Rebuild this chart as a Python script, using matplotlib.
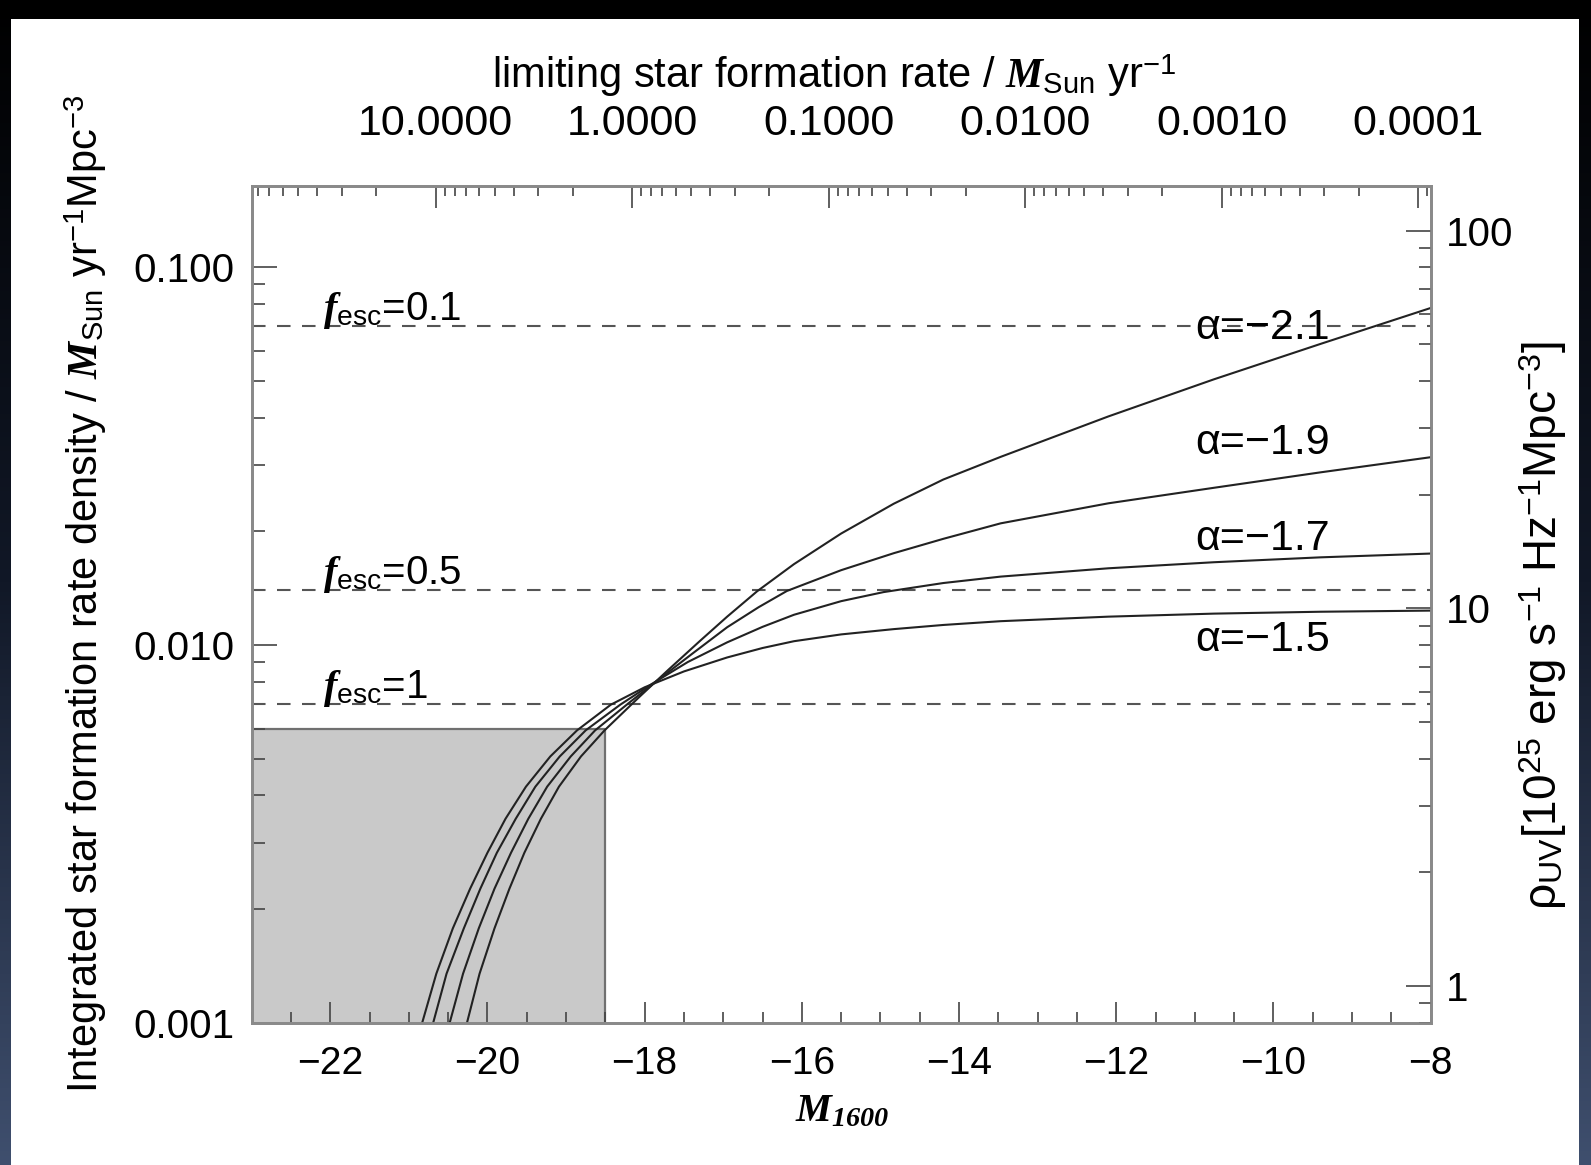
import numpy as np
import matplotlib
matplotlib.use("Agg")
import matplotlib.pyplot as plt
from matplotlib.colors import LinearSegmentedColormap
from matplotlib.patches import Rectangle
from matplotlib.ticker import (FixedLocator, FixedFormatter, LogLocator,
                               MultipleLocator, NullFormatter)

plt.rcParams["font.family"] = ["Liberation Sans", "DejaVu Sans"]
plt.rcParams["mathtext.fontset"] = "custom"
plt.rcParams["mathtext.rm"] = "Liberation Sans"
plt.rcParams["mathtext.it"] = "Liberation Serif:italic"
plt.rcParams["mathtext.bf"] = "Liberation Serif:italic:bold"

# limiting magnitude M_1600 and log10 of integrated SFR density (Msun/yr/Mpc^3),
# read off the curves of the figure
m_a15 = [-20.83, -20.65, -20.44, -20.22, -20.00, -19.77, -19.51, -19.20, -18.86,
         -18.43, -18.00, -17.50, -16.95, -16.50, -16.10, -15.50, -14.83, -14.20,
         -13.47, -12.10, -10.76, -9.40, -8.00]
log_sfrd_a15 = [-3.000, -2.870, -2.750, -2.645, -2.550, -2.460, -2.375, -2.295, -2.226,
                -2.158, -2.112, -2.070, -2.033, -2.008, -1.990, -1.972, -1.958, -1.947,
                -1.937, -1.925, -1.917, -1.912, -1.909]

m_a17 = [-20.69, -20.52, -20.30, -20.09, -19.88, -19.64, -19.39, -19.08, -18.75,
         -18.31, -17.90, -17.45, -16.95, -16.50, -16.10, -15.50, -14.96, -14.20,
         -13.47, -12.10, -10.76, -9.40, -8.00]
log_sfrd_a17 = [-3.000, -2.870, -2.750, -2.645, -2.550, -2.460, -2.375, -2.295, -2.226,
                -2.158, -2.102, -2.045, -1.993, -1.952, -1.920, -1.884, -1.860, -1.836,
                -1.819, -1.797, -1.781, -1.768, -1.758]

m_a19 = [-20.48, -20.31, -20.11, -19.91, -19.70, -19.48, -19.24, -18.94, -18.63,
         -18.18, -17.80, -17.40, -16.95, -16.55, -16.19, -15.50, -14.83, -14.20,
         -13.47, -12.10, -10.76, -9.40, -8.00]
log_sfrd_a19 = [-3.000, -2.870, -2.750, -2.645, -2.550, -2.460, -2.375, -2.295, -2.226,
                -2.150, -2.088, -2.024, -1.953, -1.900, -1.857, -1.802, -1.757, -1.719,
                -1.678, -1.625, -1.584, -1.543, -1.503]

m_a21 = [-20.26, -20.10, -19.91, -19.72, -19.53, -19.32, -19.09, -18.81, -18.51,
         -18.08, -17.70, -17.30, -16.95, -16.57, -16.10, -15.50, -14.83, -14.20,
         -13.47, -12.10, -10.76, -9.40, -8.00]
log_sfrd_a21 = [-3.000, -2.870, -2.750, -2.645, -2.550, -2.460, -2.375, -2.295, -2.226,
                -2.140, -2.066, -1.990, -1.925, -1.858, -1.786, -1.705, -1.626, -1.562,
                -1.502, -1.395, -1.297, -1.203, -1.108]

alpha_labels = ["α=−2.1", "α=−1.9", "α=−1.7", "α=−1.5"]
alpha_label_y = [0.0689, 0.0343, 0.0191, 0.0103]
alpha_label_m = -11.0

fesc_labels = ["0.1", "0.5", "1"]
fesc_sfrd = [0.07, 0.014, 0.007]
fesc_label_m = -22.09

shade_mlim = -18.5
shade_sfrd = 0.006

m_range = (-23.0, -8.0)
sfrd_range = (0.001, 0.164)
m_sfr_one = -18.16     # magnitude where limiting SFR = 1 Msun/yr
rho_per_sfrd = 800.0   # 10^25 erg/s/Hz/Mpc^3 per Msun/yr/Mpc^3

sfr_ticks = [10, 1, 0.1, 0.01, 0.001, 0.0001]
sfr_ticklabels = ["10.0000", "1.0000", "0.1000", "0.0100", "0.0010", "0.0001"]
sfrd_ticks = [0.001, 0.01, 0.1]
sfrd_ticklabels = ["0.001", "0.010", "0.100"]
rho_ticks = [1, 10, 100]
rho_ticklabels = ["1", "10", "100"]


def sfr_of(m):
    return 10 ** (-0.4 * (m - m_sfr_one))


W, H = 1591, 1165
fig = plt.figure(figsize=(W / 100, H / 100), dpi=100)
fig.patch.set_facecolor("white")

ax = fig.add_axes([251.6 / W, 1 - 1022.8 / H, (1430.7 - 251.6) / W, (1022.8 - 186) / H])

spine_col = "#8a8a8a"
tick_col = "#444444"
fs = 28

# shaded region
ax.fill_between([m_range[0] - 1, shade_mlim], 0.0005, shade_sfrd,
                facecolor="#c9c9c9", edgecolor="#707070", linewidth=1.6, zorder=1)

# f_esc dashed lines
for lab, val in zip(fesc_labels, fesc_sfrd):
    ax.axhline(val, color="#555555", lw=1.5, ls=(0, (6.5, 5.5)), zorder=2)
    ax.text(fesc_label_m, val * 1.035, r"$\mathbf{f}_{\rm esc}$=" + lab,
            fontsize=29, va="baseline", ha="left", zorder=3)

for m, s in [(m_a21, log_sfrd_a21), (m_a19, log_sfrd_a19),
             (m_a17, log_sfrd_a17), (m_a15, log_sfrd_a15)]:
    ax.plot(m, 10 ** np.array(s), color="#222222", lw=1.5, zorder=4)

for lab, y in zip(alpha_labels, alpha_label_y):
    ax.text(alpha_label_m, y, lab, fontsize=31, va="center", ha="left", zorder=3)

ax.set_xlim(*m_range)
ax.set_yscale("log")
ax.set_ylim(*sfrd_range)
ax.xaxis.set_major_locator(MultipleLocator(2))
ax.xaxis.set_minor_locator(MultipleLocator(0.5))
ax.yaxis.set_major_locator(FixedLocator(sfrd_ticks))
ax.yaxis.set_major_formatter(FixedFormatter(sfrd_ticklabels))
ax.yaxis.set_minor_locator(LogLocator(base=10, subs=np.arange(2, 10)))
ax.yaxis.set_minor_formatter(NullFormatter())
ax.tick_params(axis="both", which="both", direction="in", color=tick_col, width=1.2,
               top=False, right=False)
ax.tick_params(axis="x", which="major", length=15, pad=17, labelsize=fs)
ax.tick_params(axis="x", which="minor", length=8)
ax.tick_params(axis="y", which="major", length=18, pad=12, labelsize=fs + 1)
ax.tick_params(axis="y", which="minor", length=9)

# top axis: limiting star formation rate
ax_top = ax.twiny()
ax_top.set_xscale("log")
ax_top.set_xlim(sfr_of(m_range[0]), sfr_of(m_range[1]))
ax_top.xaxis.set_major_locator(FixedLocator(sfr_ticks))
ax_top.xaxis.set_major_formatter(FixedFormatter(sfr_ticklabels))
ax_top.xaxis.set_minor_locator(LogLocator(base=10, subs=np.arange(2, 10)))
ax_top.xaxis.set_minor_formatter(NullFormatter())
ax_top.tick_params(axis="x", which="both", direction="in", color=tick_col, width=1.2,
                   labelsize=31)
ax_top.tick_params(axis="x", which="major", length=16, pad=30)
ax_top.tick_params(axis="x", which="minor", length=7)

# right axis: UV luminosity density
ax_r = ax.twinx()
ax_r.set_yscale("log")
ax_r.set_ylim(sfrd_range[0] * rho_per_sfrd, sfrd_range[1] * rho_per_sfrd)
ax_r.yaxis.set_major_locator(FixedLocator(rho_ticks))
ax_r.yaxis.set_major_formatter(FixedFormatter(rho_ticklabels))
ax_r.yaxis.set_minor_locator(LogLocator(base=10, subs=np.arange(2, 10)))
ax_r.yaxis.set_minor_formatter(NullFormatter())
ax_r.tick_params(axis="y", which="both", direction="in", color=tick_col, width=1.2,
                 labelsize=29)
ax_r.tick_params(axis="y", which="major", length=18, pad=11)
ax_r.tick_params(axis="y", which="minor", length=9)

for a in (ax, ax_top, ax_r):
    for sp in a.spines.values():
        sp.set_color(spine_col)
        sp.set_linewidth(1.8)

fig.text(834 / W, 1 - 76 / H, r"limiting star formation rate / $\mathbf{M}_{\rm Sun}$ yr$^{-1}$",
         fontsize=30, ha="center", va="center")
fig.text(842 / W, 1 - 1110 / H, r"$\mathbf{M}_{\mathbf{1600}}$", fontsize=29,
         ha="center", va="center")
fig.text(86 / W, 1 - 594 / H,
         r"Integrated star formation rate density / $\mathbf{M}_{\rm Sun}$ yr$^{-1}$Mpc$^{-3}$",
         fontsize=30, rotation=90, ha="center", va="center")
fig.text(1543 / W, 1 - 626 / H,
         r"ρ$_{\rm UV}$[10$^{25}$ erg s$^{-1}$ Hz$^{-1}$Mpc$^{-3}$]",
         fontsize=33, rotation=90, ha="center", va="center")

# dark screen border around the slide
grad = np.linspace(0, 1, 256).reshape(-1, 1)
edge_cmap = LinearSegmentedColormap.from_list("edge", ["#000000", "#111827", "#3f4f6e"])
for x0, w in ((0, 11), (W - 12, 12)):
    dax = fig.add_axes([x0 / W, 0, w / W, 1])
    dax.imshow(grad, aspect="auto", cmap=edge_cmap, origin="upper")
    dax.axis("off")
fig.add_artist(Rectangle((0, 1 - 19 / H), 1, 19 / H, transform=fig.transFigure,
                         facecolor="black", edgecolor="none", zorder=10))

fig.savefig("out.png", dpi=100)
